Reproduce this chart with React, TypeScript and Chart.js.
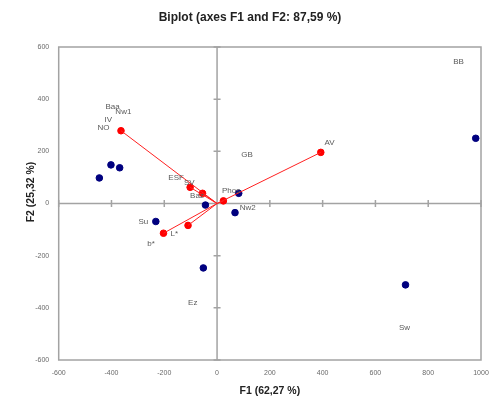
import React, { useEffect, useRef } from "react";
import { Chart, registerables } from "chart.js";
Chart.register(...registerables);

// Observations (blue points)
const obsX = [-402, -369, -446, -44, 82, 68, -232, -52, 980, 714];
const obsY = [148, 137, 98, -6, 39, -35, -69, -247, 250, -312];

// Variables (red vectors from origin)
const varX = [-364, -102, -55, 24, -110, -203, 393];
const varY = [279, 62, 39, 10, -84, -114, 196];

// Text labels (data coordinates)
const labelNames = ["Baa", "Nw1", "IV", "NO", "ESF", "SV", "Baz", "Phos", "Nw2", "GB", "AV", "BB", "Su", "b*", "L*", "Ez", "Sw"];
const labelX = [-396, -355, -412, -430, -155, -105, -76, 53, 116, 114, 426, 915, -279, -250, -162, -92, 710];
const labelY = [369, 351, 320, 289, 97, 80, 31, 49, -17, 186, 231, 544, -72, -153, -117, -379, -477];

const xTicks = [-600, -400, -200, 0, 200, 400, 600, 800, 1000];
const yTicks = [-600, -400, -200, 0, 200, 400, 600];

const titleText = "Biplot (axes F1 and F2: 87,59 %)";
const xTitle = "F1 (62,27 %)";
const yTitle = "F2 (25,32 %)";

const FONT = "'Liberation Sans', Arial, sans-serif";

const decor = {
  id: "decor",
  beforeDatasetsDraw(chart: any) {
    const { ctx, chartArea: a, scales } = chart;
    const x = scales.x, y = scales.y;
    ctx.save();
    ctx.strokeStyle = "#a3a3a3";
    ctx.lineWidth = 1.5;
    ctx.strokeRect(a.left, a.top, a.right - a.left, a.bottom - a.top);
    const x0 = x.getPixelForValue(0);
    const y0 = y.getPixelForValue(0);
    ctx.beginPath();
    ctx.moveTo(x0, a.top);
    ctx.lineTo(x0, a.bottom);
    ctx.moveTo(a.left, y0);
    ctx.lineTo(a.right, y0);
    for (const v of xTicks) {
      const px = x.getPixelForValue(v);
      ctx.moveTo(px, y0 - 3.5);
      ctx.lineTo(px, y0 + 3.5);
    }
    for (const v of yTicks) {
      const py = y.getPixelForValue(v);
      ctx.moveTo(x0 - 3.5, py);
      ctx.lineTo(x0 + 3.5, py);
    }
    ctx.stroke();
    ctx.restore();
  },
  afterDatasetsDraw(chart: any) {
    const { ctx, scales } = chart;
    ctx.save();
    ctx.fillStyle = "#5a5a5a";
    ctx.font = `8px ${FONT}`;
    ctx.textAlign = "center";
    ctx.textBaseline = "middle";
    labelNames.forEach((n, i) => {
      ctx.fillText(n, scales.x.getPixelForValue(labelX[i]), scales.y.getPixelForValue(labelY[i]));
    });
    ctx.restore();
  },
  afterDraw(chart: any) {
    const { ctx, chartArea: a } = chart;
    ctx.save();
    ctx.fillStyle = "#222";
    ctx.textAlign = "center";
    ctx.textBaseline = "middle";
    ctx.font = `bold 12px ${FONT}`;
    ctx.fillText(titleText, 250, 18);
    ctx.font = `bold 10.5px ${FONT}`;
    ctx.fillText(xTitle, (a.left + a.right) / 2, 391);
    ctx.translate(31.5, 192);
    ctx.rotate(-Math.PI / 2);
    ctx.fillText(yTitle, 0, 0);
    ctx.restore();
  },
};

export default function App() {
  const ref = useRef<HTMLCanvasElement>(null);
  useEffect(() => {
    if (!ref.current) return;
    const lineData: any[] = [];
    varX.forEach((vx, i) => {
      lineData.push({ x: 0, y: 0 }, { x: vx, y: varY[i] }, { x: NaN, y: NaN });
    });
    const chart = new Chart(ref.current, {
      type: "scatter",
      data: {
        datasets: [
          {
            label: "vectors",
            data: lineData,
            showLine: true,
            spanGaps: false,
            borderColor: "#ff2020",
            borderWidth: 1,
            pointRadius: 0,
            pointHoverRadius: 0,
          } as any,
          {
            label: "variables",
            data: varX.map((vx, i) => ({ x: vx, y: varY[i] })),
            backgroundColor: "#ff0000",
            borderColor: "#ff0000",
            pointRadius: 3.3,
          },
          {
            label: "observations",
            data: obsX.map((ox, i) => ({ x: ox, y: obsY[i] })),
            backgroundColor: "#00007f",
            borderColor: "#00007f",
            pointRadius: 3.3,
          },
        ],
      },
      options: {
        animation: false,
        responsive: false,
        devicePixelRatio: 1,
        layout: { padding: { top: 47, right: 10, left: 0, bottom: 0 } },
        plugins: { legend: { display: false }, tooltip: { enabled: false }, title: { display: false } },
        scales: {
          x: {
            type: "linear",
            min: -600,
            max: 1000,
            afterBuildTicks: (s: any) => { s.ticks = xTicks.map((v) => ({ value: v })); },
            afterFit: (s: any) => { s.height = 36; s.paddingLeft = 0; s.paddingRight = 0; },
            grid: { display: false, drawTicks: false },
            border: { display: false },
            ticks: { padding: 9, color: "#6a6a6a", font: { size: 7, family: FONT }, maxRotation: 0, autoSkip: false, callback: (v: any) => String(v) },
          },
          y: {
            type: "linear",
            min: -600,
            max: 600,
            afterBuildTicks: (s: any) => { s.ticks = yTicks.map((v) => ({ value: v })); },
            afterFit: (s: any) => { s.width = 58.7; s.paddingTop = 0; s.paddingBottom = 0; },
            grid: { display: false, drawTicks: false },
            border: { display: false },
            ticks: { padding: 9.5, color: "#6a6a6a", font: { size: 7, family: FONT }, autoSkip: false, callback: (v: any) => String(v) },
          },
        },
      },
      plugins: [decor],
    });
    return () => chart.destroy();
  }, []);
  return (
    <div style={{ position: "fixed", left: 0, top: 0, width: 491, height: 396, background: "#fff" }}>
      <canvas ref={ref} width={491} height={396} />
    </div>
  );
}
